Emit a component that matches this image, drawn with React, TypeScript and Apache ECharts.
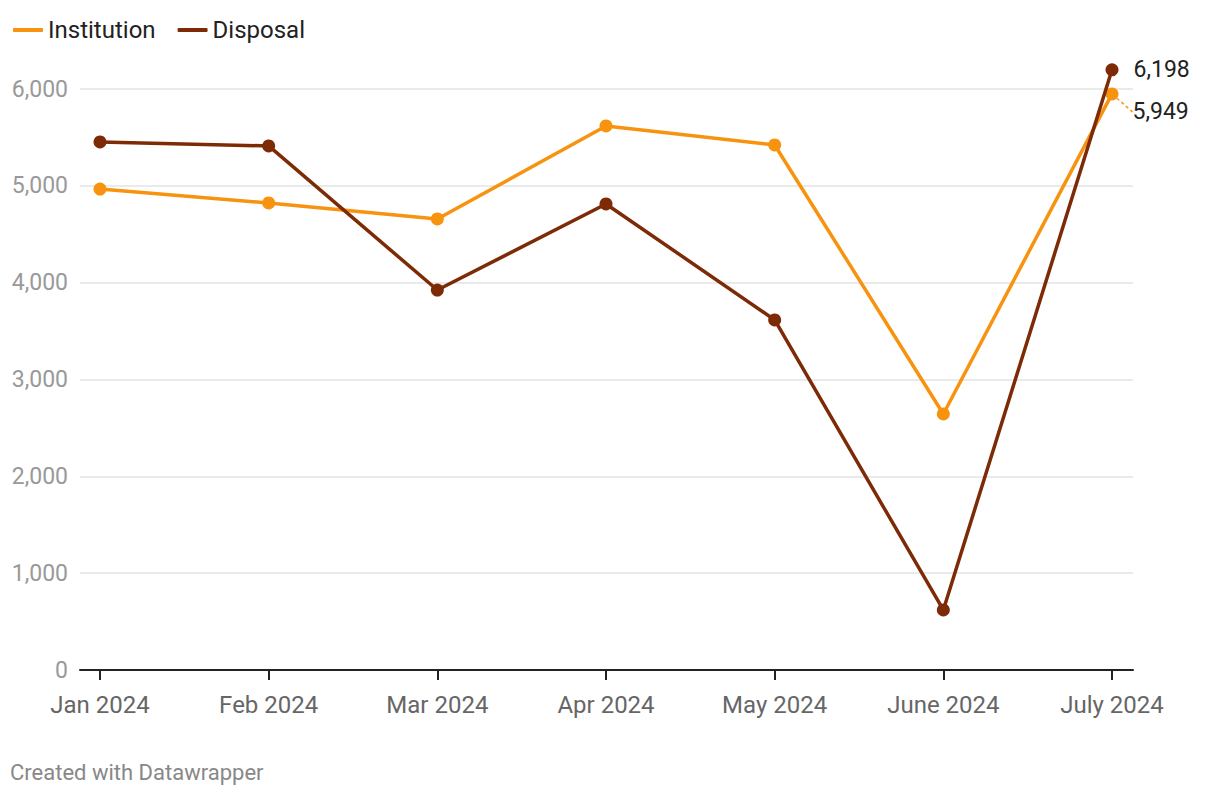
import React, { useEffect, useRef } from "react";
import * as echarts from "echarts";

const categories = ["Jan 2024", "Feb 2024", "Mar 2024", "Apr 2024", "May 2024", "June 2024", "July 2024"];
const institution = [4967, 4823, 4658, 5618, 5422, 2644, 5949];
const disposal = [5453, 5412, 3924, 4813, 3615, 620, 6198];
const yTicks = [0, 1000, 2000, 3000, 4000, 5000, 6000];

const ORANGE = "#f7930e";
const BROWN = "#7d2a07";
const FONT = "Roboto, 'Noto Sans', sans-serif";

const fmt = (v: number) => v.toLocaleString("en-US");

export default function App() {
  const ref = useRef<HTMLDivElement>(null);
  useEffect(() => {
    if (!ref.current) return;
    const chart = echarts.init(ref.current, undefined, { renderer: "svg" });
    const idx = categories.map((_, i) => i);
    const mk = (vals: number[]) =>
      vals.map((v, i) =>
        i === vals.length - 1 ? { value: [i, v], label: { show: true } } : { value: [i, v] }
      );
    chart.setOption({
      animation: false,
      textStyle: { fontFamily: FONT },
      legend: {
        left: 8,
        top: 13,
        icon: "roundRect",
        itemWidth: 30,
        itemHeight: 4,
        itemGap: 22,
        textStyle: { fontSize: 24, color: "#222", fontFamily: FONT },
        data: ["Institution", "Disposal"],
      },
      grid: { left: 80, right: 87, top: 89, bottom: 126, containLabel: false },
      xAxis: {
        type: "value",
        min: -0.1186,
        max: 6.1245,
        axisLine: { show: true, onZero: false, lineStyle: { color: "#222", width: 2 } },
        axisTick: { show: true, customValues: idx, length: 10, lineStyle: { color: "#222", width: 2 } },
        axisLabel: {
          customValues: idx,
          formatter: (v: number) => categories[Math.round(v)] ?? "",
          fontSize: 24,
          color: "#666",
          margin: 23,
          fontFamily: FONT,
        },
        splitLine: { show: false },
      },
      yAxis: {
        type: "value",
        min: 0,
        max: 6000,
        interval: 1000,
        axisLine: { show: false },
        axisTick: { show: false },
        axisLabel: {
          customValues: yTicks,
          formatter: (v: number) => fmt(v),
          fontSize: 23,
          color: "#999",
          margin: 12,
          fontFamily: FONT,
        },
        splitLine: { show: true, lineStyle: { color: "#e3e3e3", width: 1.5 } },
      },
      series: [
        {
          name: "Institution",
          type: "line",
          data: mk(institution),
          clip: false,
          symbol: "circle",
          symbolSize: 13,
          color: ORANGE,
          lineStyle: { width: 3.5, color: ORANGE },
          label: {
            show: false,
            position: "right",
            distance: 14,
            fontSize: 23,
            color: "#222",
            fontFamily: FONT,
            formatter: (p: any) => fmt(p.value[1]),
          },
          labelLayout: (p: any) => (p.dataIndex === institution.length - 1 ? { dy: 18 } : {}),
          labelLine: { show: true, length2: 0, lineStyle: { color: ORANGE, width: 1.5, type: [3, 3] } },
          z: 2,
        },
        {
          name: "Disposal",
          type: "line",
          data: mk(disposal),
          clip: false,
          symbol: "circle",
          symbolSize: 13,
          color: BROWN,
          lineStyle: { width: 3.5, color: BROWN },
          label: {
            show: false,
            position: "right",
            distance: 15,
            fontSize: 23,
            color: "#222",
            fontFamily: FONT,
            formatter: (p: any) => fmt(p.value[1]),
          },
          z: 3,
        },
      ],
      graphic: [
        {
          type: "text",
          left: 10,
          top: 761,
          style: { text: "Created with Datawrapper", fontSize: 22, fill: "#888", fontFamily: FONT },
        },
      ],
    });
    return () => chart.dispose();
  }, []);
  return (
    <div
      ref={ref}
      style={{ position: "fixed", left: 0, top: 0, width: 1220, height: 796, background: "#fff" }}
    />
  );
}
